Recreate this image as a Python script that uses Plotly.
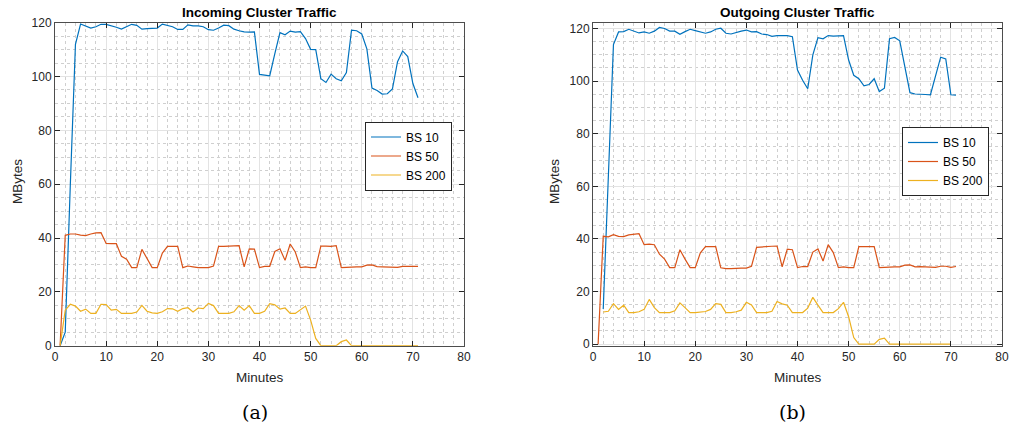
import plotly.graph_objects as go

# A 1014x431 figure overflows the window slightly, so 1012x429 is used and
# positions below are given in window pixels.
W, H = 1012, 429

# ---------------- data ----------------
minutes_in = list(range(1, 72))
in_bs10 = [0, 5, 60, 112, 119.5, 118.8, 118, 118.5, 119.4, 119.4,
           118.9, 118.3, 117.6, 118.5, 119.4, 119, 117.6, 117.8, 117.8, 118,
           119.5, 119, 118.5, 117.5, 117.5, 119.2, 118.8, 118.8, 118.5, 117.4,
           117.2, 118, 119.1, 118.9, 117.6, 117, 116.6, 116.5, 116.6, 100.8,
           100.6, 100.3, 108.5, 116.3, 115.5, 116.9, 116.5, 116.7, 114.1, 110.1,
           110, 99.2, 97.8, 100.9, 99.2, 98.4, 101.5, 117.2, 117, 115.8,
           110.3, 95.7, 94.8, 93.5, 93.6, 95.4, 105.5, 109.5, 107.4, 97.4,
           92.1]
in_bs50 = [0, 41, 41.5, 41.5, 41.1, 40.9, 41.5, 41.9, 42, 38,
           37.9, 37.9, 33.2, 32.1, 29, 29, 35.8, 32.3, 29, 29,
           34.4, 36.9, 36.9, 36.9, 29, 29.6, 29.3, 29, 29, 29,
           29.6, 36.9, 36.9, 37, 37.2, 37.2, 29.3, 36, 35.9, 29,
           29.5, 29.5, 35, 36, 31.7, 37.8, 34.8, 29, 29.3, 29,
           29, 37, 37, 36.9, 37.2, 29, 29.1, 29.3, 29.3, 29.3,
           29.9, 30, 29.4, 29.3, 29.3, 29.3, 29.1, 29.5, 29.5, 29.3,
           29.5]
in_bs200 = [0, 13.2, 15.4, 14.7, 12.8, 13.6, 12, 12, 15.4, 15.3,
            13.2, 13.5, 12, 12, 12, 12.5, 15, 12.8, 12.2, 12,
            12.6, 13.8, 13.7, 12.8, 13.8, 14.1, 12.5, 14, 13.8, 15.7,
            14.9, 12, 12, 12, 12.6, 14.9, 13.2, 14.9, 12, 12,
            12.8, 15.6, 15.2, 13.6, 14, 12, 12, 13.2, 14.7, 9.5,
            2.7, 0, 0, 0, 0, 1.5, 2.1, 0, 0, 0,
            0, 0, 0, 0, 0, 0, 0, 0, 0, 0,
            0]

minutes_out_bs50 = list(range(1, 72))
minutes_out = list(range(2, 72))
out_bs10 = [13.3, 65, 113.9, 118.7, 118.8, 119.7, 119.1, 118.3, 118.7,
            118.2, 119, 120.4, 120, 119, 119, 117.8, 118.8, 119.7, 119.2,
            118.6, 118.2, 118.7, 119.7, 120.1, 118.2, 117.9, 118.6, 119, 119.4,
            118.7, 118.8, 117.9, 117.7, 117, 117.3, 117.3, 117.3, 116.9, 104.2,
            100.3, 97.1, 110, 116.5, 116.1, 117.3, 117.1, 117.1, 117.3, 108,
            102.2, 100.9, 98.2, 98.7, 100.9, 96, 97.3, 116.1, 116.6, 115.3,
            106.1, 95.6, 95.1, 94.9, 94.9, 94.8, 101.6, 109.1, 108.4, 94.8,
            94.7]
out_bs50 = [0, 41, 40.8, 41.6, 41, 40.9, 41.5, 41.8, 42, 37.8,
            38, 37.8, 34.2, 32.3, 29.1, 29.1, 35.9, 32.3, 29.1, 29.1,
            34.7, 37.1, 37.1, 37.1, 29, 28.7, 28.7, 28.9, 28.9, 28.9,
            29.6, 36.8, 37, 37, 37.2, 37.3, 29.4, 36.1, 35.9, 29.1,
            29.5, 29.5, 35, 36.2, 31.6, 37.8, 34.8, 29.1, 29.4, 29.1,
            29.1, 37.1, 37.2, 37.1, 37.1, 29.1, 29.2, 29.4, 29.4, 29.4,
            30, 30.1, 29.4, 29.5, 29.4, 29.4, 29.2, 29.6, 29.6, 29.2,
            29.5]
out_bs200 = [12.2, 12.5, 15.4, 13.2, 14.8, 12, 12, 12.3, 13.2,
             17, 13.9, 12, 12, 12, 12.7, 15.7, 13.9, 12, 12,
             12.2, 12.4, 13.2, 15.4, 15.1, 12, 12, 12.3, 12.9, 15.9,
             14.9, 12, 12, 12, 12.5, 16.2, 15.3, 14.8, 12, 12,
             12, 13.7, 17.8, 14.8, 12, 12, 12, 13.5, 15.9, 10.4,
             2.5, 0, 0, 0, 0, 1.8, 2.3, 0, 0, 0,
             0, 0, 0, 0, 0, 0, 0, 0, 0, 0]

series_names = ["BS 10", "BS 50", "BS 200"]
colors = ["#0072BD", "#D95319", "#EDB120"]
x_ticks = [0, 10, 20, 30, 40, 50, 60, 70, 80]
y_ticks = [0, 20, 40, 60, 80, 100, 120]

# ---------------- helpers (window pixel -> paper fraction) ----------------
def px_x(p):
    return p / W

def px_y(p):
    return 1 - p / H

FONT = "Liberation Sans, Arial, Helvetica, sans-serif"
TXT = "#262626"

fig = go.Figure()
lw = 1.2
left_sets = [(minutes_in, in_bs10), (minutes_in, in_bs50), (minutes_in, in_bs200)]
right_sets = [(minutes_out, out_bs10), (minutes_out_bs50, out_bs50), (minutes_out, out_bs200)]
for i, (xs, ys) in enumerate(left_sets):
    fig.add_trace(go.Scatter(x=xs, y=ys, mode="lines", name=series_names[i],
                             line=dict(color=colors[i], width=lw),
                             xaxis="x", yaxis="y", legend="legend"))
for i, (xs, ys) in enumerate(right_sets):
    fig.add_trace(go.Scatter(x=xs, y=ys, mode="lines", name=series_names[i],
                             line=dict(color=colors[i], width=lw),
                             xaxis="x2", yaxis="y2", legend="legend2"))

ydom = [px_y(345.7), px_y(22.7)]

def xaxis_cfg(dom, anchor):
    return dict(domain=dom, anchor=anchor, range=[0, 80], tickvals=x_ticks,
                ticks="inside", ticklen=5, tickcolor=TXT, showline=True,
                linecolor="#4d4d4d", linewidth=1, mirror="ticks",
                showgrid=True, gridcolor="#e3e3e3", gridwidth=1, zeroline=False,
                automargin=False, ticklabeloverflow="allow",
                minor=dict(dtick=2, showgrid=True, gridcolor="#cfcfcf",
                           griddash="dot", gridwidth=1),
                tickfont=dict(family=FONT, size=12, color=TXT))

def yaxis_cfg(anchor, rng):
    return dict(domain=ydom, anchor=anchor, range=rng, tickvals=y_ticks,
                ticks="inside", ticklen=5, tickcolor=TXT, showline=True,
                linecolor="#4d4d4d", linewidth=1, mirror="ticks",
                showgrid=True, gridcolor="#e3e3e3", gridwidth=1, zeroline=False,
                automargin=False,
                minor=dict(dtick=5, showgrid=True, gridcolor="#cfcfcf",
                           griddash="dot", gridwidth=1),
                tickfont=dict(family=FONT, size=12, color=TXT))

legend_common = dict(xanchor="left", yanchor="middle", bgcolor="white",
                     bordercolor=TXT, borderwidth=1,
                     font=dict(family=FONT, size=12, color="black"),
                     tracegroupgap=0)

fig.update_layout(
    width=W, height=H, margin=dict(l=0, r=0, t=0, b=0),
    paper_bgcolor="white", plot_bgcolor="white",
    xaxis=xaxis_cfg([px_x(55), px_x(464)], "y"),
    yaxis=yaxis_cfg("x", [0, 120]),
    xaxis2=xaxis_cfg([px_x(593), px_x(1002)], "y2"),
    yaxis2=yaxis_cfg("x2", [-0.6, 122.2]),
    legend=dict(x=px_x(365), y=px_y(156), **legend_common),
    legend2=dict(x=px_x(902), y=px_y(161.5), **legend_common),
    showlegend=True,
)

anns = []
for cx, title in [(259, "Incoming Cluster Traffic"), (797, "Outgoing Cluster Traffic")]:
    anns.append(dict(x=px_x(cx), y=px_y(12), xref="paper", yref="paper",
                     text="<b>%s</b>" % title, showarrow=False,
                     font=dict(family=FONT, size=13.5, color="black"),
                     xanchor="center", yanchor="middle"))
for cx in [259.5, 797.5]:
    anns.append(dict(x=px_x(cx), y=px_y(377), xref="paper", yref="paper",
                     text="Minutes", showarrow=False,
                     font=dict(family=FONT, size=13.5, color=TXT),
                     xanchor="center", yanchor="middle"))
for cx in [17, 554]:
    anns.append(dict(x=px_x(cx), y=px_y(182), xref="paper", yref="paper",
                     text="MBytes", showarrow=False, textangle=-90,
                     font=dict(family=FONT, size=13.5, color=TXT),
                     xanchor="center", yanchor="middle"))
for cx, cap in [(254.5, "(a)"), (792.5, "(b)")]:
    anns.append(dict(x=px_x(cx), y=px_y(412), xref="paper", yref="paper",
                     text=cap, showarrow=False,
                     font=dict(family="DejaVu Serif, serif", size=19, color="black"),
                     xanchor="center", yanchor="middle"))
fig.update_layout(annotations=anns)

fig.write_html("out.html")
